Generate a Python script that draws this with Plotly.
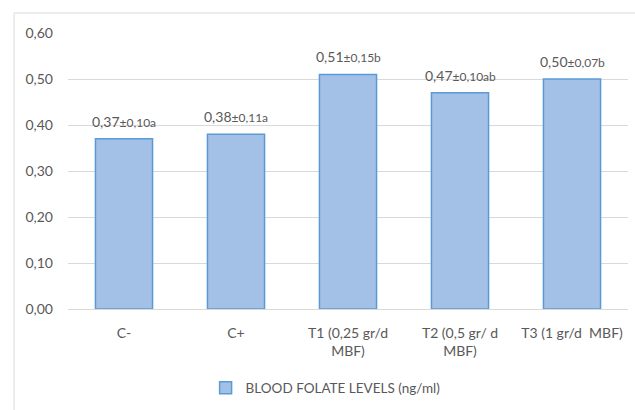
import plotly.graph_objects as go

categories = ["C-", "C+", "T1 (0,25 gr/d<br>MBF)", "T2 (0,5 gr/ d<br>MBF)", "T3 (1 gr/d  MBF)"]
means = [0.37, 0.38, 0.51, 0.47, 0.50]
sds = ["0,10", "0,11", "0,15", "0,10", "0,07"]
letters = ["a", "a", "b", "ab", "b"]
y_ticks = [0.0, 0.1, 0.2, 0.3, 0.4, 0.5, 0.6]
y_ticktext = ["0,00", "0,10", "0,20", "0,30", "0,40", "0,50", "0,60"]
series_name = "BLOOD FOLATE LEVELS (ng/ml)"

FONT = "Lato, Open Sans, sans-serif"
GREY = "#595959"

fig = go.Figure()
fig.add_trace(go.Bar(
    x=categories, y=means, name=series_name,
    marker=dict(color="#A3C1E6", line=dict(color="#5B9BD5", width=1.5)),
    showlegend=True,
))

for c, m, s, l in zip(categories, means, sds, letters):
    mtxt = f"{m:.2f}".replace(".", ",")
    fig.add_annotation(
        x=c, y=m, xref="x", yref="y", yanchor="bottom", yshift=7,
        text=f"{mtxt}<span style='font-size:12px'>±{s}{l}</span>",
        showarrow=False, font=dict(family=FONT, size=14, color=GREY),
    )

# chart frame
fig.add_shape(type="rect", xref="paper", yref="paper",
              x0=-0.0964, x1=1.2, y0=-0.5, y1=1.0725,
              line=dict(color="#D9D9D9", width=1), fillcolor="rgba(0,0,0,0)",
              layer="below")

fig.update_layout(
    width=635, height=410,
    margin=dict(l=68, r=7, t=33, b=101, autoexpand=False),
    paper_bgcolor="white", plot_bgcolor="white",
    bargap=0.49,
    font=dict(family=FONT, size=13, color=GREY),
    legend=dict(orientation="h", x=0.46, xanchor="center", y=-0.286, yanchor="middle",
                font=dict(size=13.5, color=GREY), itemwidth=30),
    xaxis=dict(showline=True, linecolor="#D9D9D9", linewidth=1, ticks="",
               tickfont=dict(size=14, color=GREY), ticklabelstandoff=11),
    yaxis=dict(range=[0, 0.6], tickvals=y_ticks, ticktext=y_ticktext,
               showgrid=True, gridcolor="#D9D9D9", gridwidth=1,
               zeroline=False, showline=False, ticks="",
               tickfont=dict(size=14, color=GREY), ticklabelstandoff=14),
)

fig.write_html("out.html", config={"displayModeBar": False},
               post_script="document.body.style.margin='0px';")
